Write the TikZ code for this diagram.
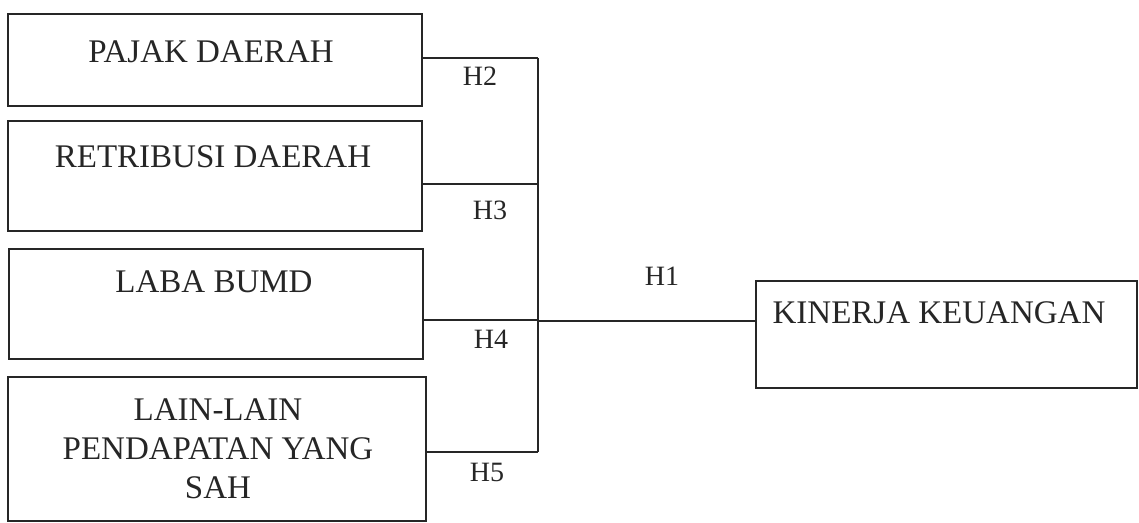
\documentclass[tikz,border=0pt]{standalone}
\usepackage{fontspec}
\setmainfont{Liberation Serif}
\begin{document}
\begin{tikzpicture}[x=0.5pt,y=-0.5pt,
  box/.style={draw=black!85, line width=0.9pt, rectangle, inner sep=0pt},
  link/.style={draw=black!85, line width=0.75pt},
  boxtext/.style={font=\fontsize{16.5}{19.5}\selectfont, text=black!85, align=center, inner sep=0pt},
  hyp/.style={font=\fontsize{14}{16}\selectfont, text=black!85, inner sep=0pt}]
\useasboundingbox (0,0) rectangle (1139,523);

% variable boxes on the left
\node[box, minimum width=207pt, minimum height=46pt] (b1) at (215,60) {};
\node[box, minimum width=207pt, minimum height=55pt] (b2) at (215,176) {};
\node[box, minimum width=207pt, minimum height=55pt] (b3) at (216,304) {};
\node[box, minimum width=209pt, minimum height=72pt] (b4) at (217,449) {};
% dependent variable box
\node[box, minimum width=190.5pt, minimum height=53.5pt] (k) at (946.5,334.5) {};

% box captions
\node[boxtext, anchor=base] (t1) at (211,63) {PAJAK DAERAH};
\node[boxtext, anchor=base] (t2) at (213,168) {RETRIBUSI DAERAH};
\node[boxtext, anchor=base] (t3) at (214,293) {LABA BUMD};
\node[boxtext] (t4) at (218,449) {LAIN-LAIN\\PENDAPATAN YANG\\SAH};
\node[boxtext, anchor=base] (tk) at (939,323) {KINERJA KEUANGAN};

% collecting bus and branch points
\coordinate (j2) at (538,58);
\coordinate (j3) at (538,184);
\coordinate (j4) at (538,320);
\coordinate (j5) at (538,452);
\coordinate (j1) at (538,321);

\draw[link] (j2) -- (j5);
\draw[link] (b1.east |- j2) -- (j2);
\draw[link] (b2.east |- j3) -- (j3);
\draw[link] (b3.east |- j4) -- (j4);
\draw[link] (b4.east |- j5) -- (j5);
\draw[link] (j1) -- (k.west |- j1);

% hypothesis labels
\node[hyp] (h2) at (480,76) {H2};
\node[hyp] (h3) at (490,210) {H3};
\node[hyp] (h4) at (491,339) {H4};
\node[hyp] (h5) at (487,472) {H5};
\node[hyp] (h1) at (662,276) {H1};
\end{tikzpicture}
\end{document}
